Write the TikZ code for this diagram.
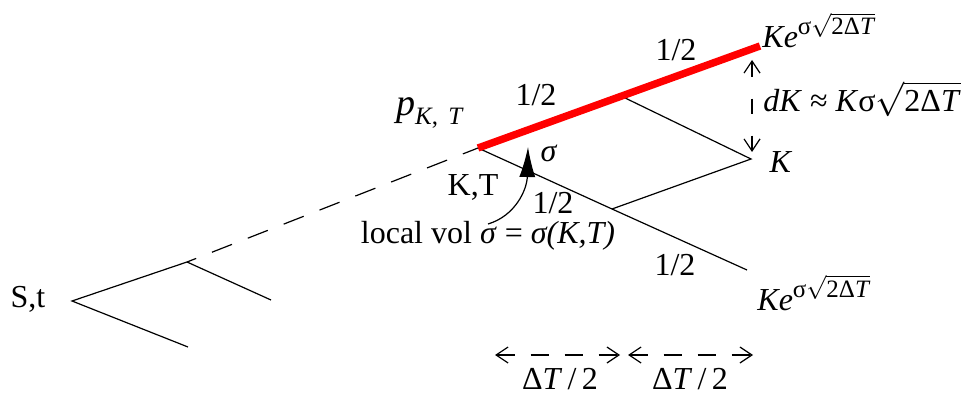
\documentclass[tikz,border=0pt]{standalone}
\usepackage{amsmath}
\usepackage{fontspec}
\setmainfont{Liberation Serif}
\usetikzlibrary{arrows.meta, calc}

\newcommand{\sqrtterm}{$\sqrt{\text{2Δ\textit{T}}}$}
\newcommand{\kexp}{\textit{Ke}\smash{\raisebox{6.5pt}{\fontsize{12.5}{13}\selectfont σ\sqrtterm}}}

\begin{document}
\begin{tikzpicture}[x=0.5pt, y=-0.5pt,
    every node/.style={inner sep=0pt, font=\fontsize{16}{19}\selectfont},
    branch/.style={line width=0.6pt},
    hot/.style={draw=red, line width=3.7pt},
    spanarrow/.style={line width=0.6pt, {Straight Barb[length=6pt,width=8pt]}-{Straight Barb[length=6pt,width=8pt]}}
  ]
  \useasboundingbox (0,0) rectangle (968,395);

  % tree points
  \coordinate (root) at (72,301);
  \coordinate (a) at (187,262);
  \coordinate (al) at (271,300);
  \coordinate (rl) at (188,347);
  \coordinate (p) at (478,148);
  \coordinate (u) at (760,46);
  \coordinate (m) at (621,96);
  \coordinate (k) at (751,159);
  \coordinate (n) at (612,209);
  \coordinate (d) at (747,270);

  \draw[branch] (rl) -- (root) -- (a) -- (al);
  \draw[branch, dash pattern=on 10.75pt off 8.5pt, dash phase=5.85pt] (a) -- (p);
  \draw[branch] (p) -- (n) -- (d);
  \draw[branch] (m) -- (k) -- (n);
  \draw[hot] (p) -- (u);

  % labels
  \node (st) at (28,299) {S,t};
  \node (pkt) at (430,113) {\fontsize{19}{21}\selectfont\textit{p}\raisebox{-4.5pt}{\fontsize{12.5}{13}\selectfont\textit{K},\, \textit{T}}};
  \node (h1) at (676,50) {1/2};
  \node (h2) at (536,95) {1/2};
  \node (h3) at (553,203) {1/2};
  \node (h4) at (675,265) {1/2};
  \node (kt) at (473,187) {K,T};
  \node (sig) at (549,153) {\textit{σ}};
  \node (vol) at (488,236) {local vol \textit{σ} = \textit{σ(K,T)}};
  \node (klbl) at (781,162) {\textit{K}};
  \node[anchor=base west] (kup) at (762,48) {\kexp};
  \node[anchor=base west] (kdown) at (757,310) {\kexp};
  \node[anchor=base west] (dk) at (763,112) {\textit{dK} ≈ \textit{K}σ\sqrtterm};

  % local vol arrow
  \coordinate (volfoot) at (488,224);
  \coordinate (voltip) at (528,147);
  \draw[line width=0.6pt, -{Latex[length=15pt,width=8pt]}] (volfoot) .. controls (515,216) and (527,190) .. (voltip);

  % dK span
  \coordinate (dkt) at (752,60);
  \coordinate (dkb) at (752,152);
  \draw[spanarrow, dash pattern=on 7.5pt off 11pt] (dkt) -- (dkb);

  % time steps
  \coordinate (t0) at (495,355);
  \coordinate (tm) at (624,355);
  \coordinate (t1) at (753,355);
  \draw[spanarrow, dash pattern=on 9pt off 8pt, shorten >=2pt] (t0) -- (tm);
  \draw[spanarrow, dash pattern=on 9pt off 8pt, shorten <=2pt] (tm) -- (t1);
  \node (dt1) at (560,379) {Δ\textit{T}\,/\,2};
  \node (dt2) at (690,379) {Δ\textit{T}\,/\,2};
\end{tikzpicture}
\end{document}
